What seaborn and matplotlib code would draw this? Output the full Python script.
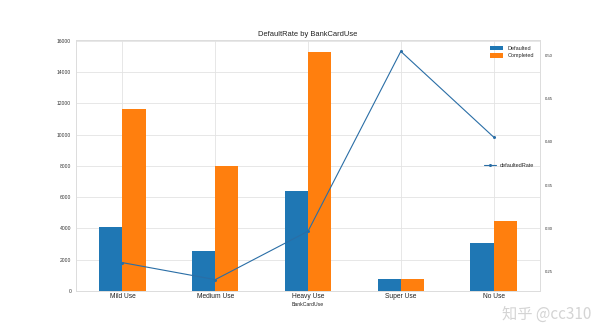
import numpy as np
import pandas as pd
import matplotlib
matplotlib.use("Agg")
import matplotlib.pyplot as plt
from matplotlib.patches import Patch
import seaborn as sns

# Loan outcomes per bank-card usage group
categories = ["Mild Use", "Medium Use", "Heavy Use", "Super Use", "No Use"]
defaulted = [4075, 2540, 6420, 755, 3050]
completed = [11625, 8000, 15290, 745, 4480]
default_rate = [0.2606, 0.2410, 0.2968, 0.5042, 0.4054]

left_ticks = [0, 2000, 4000, 6000, 8000, 10000, 12000, 14000, 16000]
right_ticks = [0.25, 0.30, 0.35, 0.40, 0.45, 0.50]

bar_colors = ["#1f77b4", "#ff7f0e"]

sns.set_style("whitegrid")
plt.rcParams["font.family"] = ["Liberation Sans", "DejaVu Sans"]

counts = pd.DataFrame({
    "BankCardUse": categories * 2,
    "Status": ["Defaulted"] * len(categories) + ["Completed"] * len(categories),
    "Count": defaulted + completed,
})

fig = plt.figure(figsize=(6, 3.33), dpi=100)
ax = fig.add_axes([0.1267, 0.126, 0.7733, 0.754])

sns.barplot(data=counts, x="BankCardUse", y="Count", hue="Status",
            palette=bar_colors, width=0.5, saturation=1,
            edgecolor="none", linewidth=0, legend=False, ax=ax)
ax.set_ylim(0, max(defaulted + completed) * 1.05)
ax.set_xlim(-0.5, len(categories) - 0.5)
ax.set_yticks(left_ticks)
ax.set_yticklabels([str(t) for t in left_ticks])
ax.tick_params(axis="both", length=0)
ax.tick_params(axis="y", labelsize=3.6, pad=3.5, colors="#333333")
ax.tick_params(axis="x", labelsize=4.8, pad=1.5, colors="#222222")
ax.set_ylabel("")
ax.set_xlabel("BankCardUse", fontsize=3.7, labelpad=1, color="#222222")
ax.set_title("DefaultRate by BankCardUse", fontsize=5.4, pad=2.5,
             color="#222222")
handles = [Patch(facecolor=c, edgecolor="none") for c in bar_colors]
ax.legend(handles, ["Defaulted", "Completed"], loc="upper right",
          frameon=False, fontsize=4.0, handlelength=2.4, handleheight=0.8,
          borderaxespad=0.6)
for s in ax.spines.values():
    s.set_color("#dddddd")
    s.set_linewidth(0.6)
ax.grid(color="#e3e3e3", linewidth=0.6)

# Default rate on a secondary axis
ax2 = ax.twinx()
sns.lineplot(x=np.arange(len(categories)), y=default_rate, marker="o",
             markersize=2.2, markeredgewidth=0, linewidth=0.8,
             color="#2a6ea6", label="defaultedRate", ax=ax2)
ax2.grid(False)
ax2.set_yticks(right_ticks)
ax2.set_yticklabels([f"{t:.2f}" for t in right_ticks])
ax2.tick_params(axis="both", length=0)
ax2.tick_params(axis="y", labelsize=3.1, pad=3.5, colors="#333333")
ax2.set_ylabel("")
ax2.legend(loc="center right", frameon=False, fontsize=4.0,
           handlelength=2.2, borderaxespad=0.6)
for s in ax2.spines.values():
    s.set_color("#dddddd")
    s.set_linewidth(0.6)

fig.text(0.985, 0.03, "知乎 @cc310", ha="right", va="bottom", fontsize=11,
         color="#d4d4d4", family=["Noto Sans CJK SC", "DejaVu Sans"])

fig.savefig("out.png", dpi=100)
